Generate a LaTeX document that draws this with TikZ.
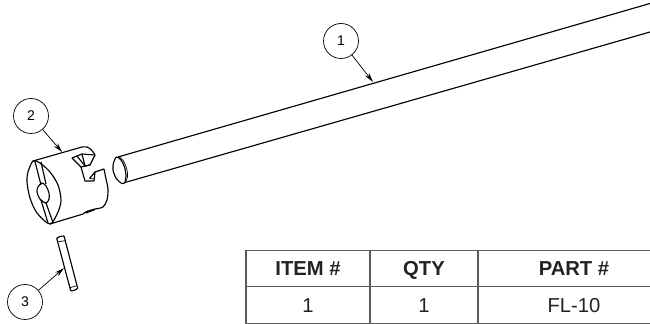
\documentclass[tikz,border=0pt]{standalone}
\usepackage{fontspec}
\setmainfont{Liberation Sans}
\usetikzlibrary{arrows.meta}

\definecolor{gridgray}{HTML}{5A5A5A}
\definecolor{textgray}{HTML}{222222}

\tikzset{
	part/.style={line width=0.65pt,black,line join=round},
	thin part/.style={line width=0.4pt,black},
	balloon/.style={circle,draw,line width=0.4pt,minimum size=0.7cm,inner sep=0pt,font=\fontsize{8}{9}\selectfont},
	leader/.style={line width=0.4pt,-{Stealth[length=5.5pt,width=2.8pt]}},
	cell/.style={draw=gridgray,line width=0.65pt,text=textgray,minimum height=0.73cm,inner sep=0pt,text height=8.3pt,text depth=0pt,font=\fontsize{11.5}{13}\selectfont},
}

\begin{document}
\begin{tikzpicture}[x=0.02cm,y=-0.02cm]
		\useasboundingbox (0,0) rectangle (650,324);

		% Tube
		\coordinate (tube_top) at (118,157);
		\coordinate (tube_bottom) at (125,182.5);
		\coordinate (tube_top_end) at (650,3.5);
		\coordinate (tube_bottom_end) at (650,32);
		\coordinate (tube_tip) at (373,82);
		\draw[part] (tube_top) -- (tube_top_end);
		\draw[part] (tube_bottom) -- (tube_bottom_end);
		\draw[part] plot [smooth cycle] coordinates {
				(116.5,157)
				(113.5,163)
				(113,170)
				(116,178)
				(121,183)
				(124.5,183)
				(126,176)
				(124.5,167)
				(121,160)
			};
		\draw[thin part] plot [smooth] coordinates {
				(118.5,156.5)
				(123.5,161)
				(127,170)
				(127.5,177)
				(125,183)
			};

		% Coupler outline
		\draw[part] plot [smooth cycle] coordinates {
				(33,161)
				(28,172)
				(27,182)
				(30,198)
				(37,213)
				(50,224)
				(58,212)
				(61,200)
				(58,185)
				(50,172)
				(40,163)
			};
		\coordinate (coupler_tip) at (62,152);
		\draw[part] (33,161) -- (82,147);
		\draw[part] plot [smooth] coordinates {
				(82,147)
				(87,147)
				(91.5,150)
				(95,155)
			};
		\draw[part] (95,155) -- (90,165) -- (81,167) -- (85,181) -- (94,181) -- (95,172) -- (104,169);
		\draw[part] plot [smooth] coordinates {
				(104,169)
				(106,179)
				(108,189)
				(107,200)
				(103,207)
				(95,209)
			};
		\draw[part] (95,209) -- (88,211) -- (85,212.5) -- (83,214) -- (50,224);
		\draw[part] (95,209.5) -- (86,213);

		% Inner faces of the notch
		\draw[part] (72,158) -- (82,154) -- (95,155);
		\draw[part] (72,158) -- (81,167);
		\draw[part] (77,156) -- (85,166);
		\draw[part] (82,154) -- (85,166) -- (90,165);
		\draw[part] (89.5,178.5) -- (95,172);
		\draw[thin part] (89.5,178.5) -- (94.5,179);

		% Slot and bore on the face
		\draw[part] (35,161.5) -- (41,185);
		\draw[part] (41,162) -- (46,184);
		\draw[part] (41,200) -- (48,223);
		\draw[part] (46,203) -- (53,222.5);
		\draw[part] plot [smooth cycle] coordinates {
				(42,183)
				(38,187)
				(37,192)
				(40,199)
				(46,203)
				(49,199)
				(49,193)
				(46,186)
			};

		% Pin
		\coordinate (pin_tip) at (64,268);
		\draw[part] plot [smooth] coordinates {(56.7,238.3) (60,236.5) (64,236)};
		\draw[part] (64,236) -- (77.7,288.3);
		\draw[part] plot [smooth] coordinates {(77.7,288.3) (74,290.5) (70.7,290.7)};
		\draw[part] (70.7,290.7) -- (56.7,238.3);
		\draw[thin part] (58.3,241.7) -- (65,240.7);
		\draw[thin part] (70,287.7) -- (76.7,285.7);

		% Balloons
		\node[balloon] (balloon1) at (341,41) {1};
		\node[balloon] (balloon2) at (31,116) {2};
		\node[balloon] (balloon3) at (25,302) {3};
		\draw[leader] (balloon1) -- (tube_tip);
		\draw[leader] (balloon2) -- (coupler_tip);
		\draw[leader] (balloon3) -- (pin_tip);

		% Table
		\node[cell,minimum width=2.48cm] (item_head) at (308,268.5) {\textbf{ITEM \#}};
		\node[cell,minimum width=2.16cm] (qty_head) at (424,268.5) {\textbf{QTY}};
		\node[cell,minimum width=3.84cm] (part_head) at (574,268.5) {\textbf{PART \#}};
		\node[cell,minimum width=2.48cm] (item_val) at (308,305) {1};
		\node[cell,minimum width=2.16cm] (qty_val) at (424,305) {1};
		\node[cell,minimum width=3.84cm] (part_val) at (574,305) {FL-10};
	\end{tikzpicture}
\end{document}
